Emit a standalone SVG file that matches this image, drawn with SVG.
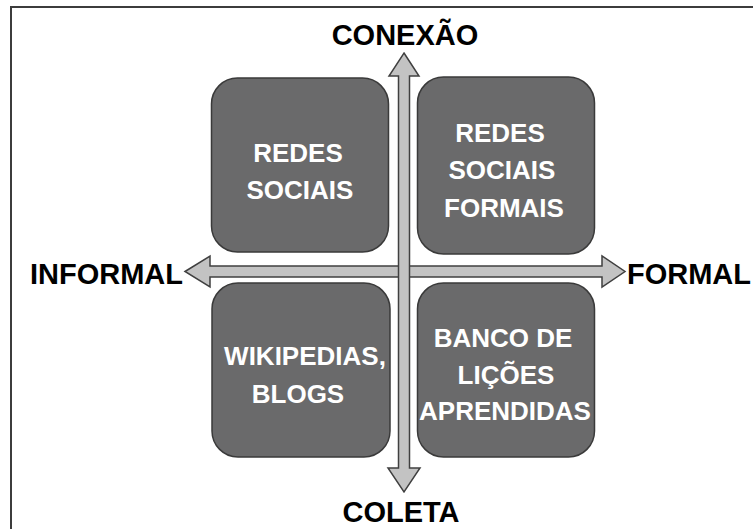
<svg xmlns="http://www.w3.org/2000/svg" width="753" height="529" viewBox="0 0 753 529">
  <style>
    .frame { fill: #ffffff; stroke: #3c3c3c; stroke-width: 2; }
    .box { fill: #6a6a6b; stroke: #3a3a3a; stroke-width: 1.5; }
    .arrow { fill: #c3c3c3; stroke: #404040; stroke-width: 1.5; stroke-linejoin: miter; }
    .btxt { font-family: "Liberation Sans", Arial, sans-serif; font-weight: bold; font-size: 26px; fill: #ffffff; text-anchor: middle; }
    .lbl { font-family: "Liberation Sans", Arial, sans-serif; font-weight: bold; font-size: 29px; fill: #000000; }
  </style>
  <rect class="frame" x="11" y="7" width="760" height="540"/>

  <g id="connectors">
    <path id="axis-horizontal" class="arrow" d="M185,271.5 L210,256 L210,266 L602,266 L602,256 L625,271.5 L602,287 L602,277 L210,277 L210,287 Z"/>
    <path id="axis-vertical" class="arrow" d="M404,53 L419,76 L409.5,76 L409.5,468 L420,468 L404,492 L388,468 L398.5,468 L398.5,76 L389,76 Z"/>
  </g>

  <g id="node-redes-sociais">
    <rect class="box" x="211.5" y="78" width="177" height="174" rx="26" ry="26"/>
    <text class="btxt" x="298" y="162">REDES</text>
    <text class="btxt" x="300" y="199">SOCIAIS</text>
  </g>

  <g id="node-redes-sociais-formais">
    <rect class="box" x="417.5" y="77" width="177" height="177" rx="26" ry="26"/>
    <text class="btxt" x="500" y="142">REDES</text>
    <text class="btxt" x="502" y="179">SOCIAIS</text>
    <text class="btxt" x="504" y="217">FORMAIS</text>
  </g>

  <g id="node-wikipedias-blogs">
    <rect class="box" x="212" y="283" width="178" height="174" rx="26" ry="26"/>
    <text class="btxt" x="305" y="365">WIKIPEDIAS,</text>
    <text class="btxt" x="298" y="403">BLOGS</text>
  </g>

  <g id="node-banco-licoes">
    <rect class="box" x="417.5" y="283" width="177" height="174" rx="26" ry="26"/>
    <text class="btxt" x="503" y="347">BANCO DE</text>
    <text class="btxt" x="506" y="384">LIÇÕES</text>
    <text class="btxt" x="505" y="420">APRENDIDAS</text>
  </g>

  <g id="labels">
    <text class="lbl" x="405" y="45" text-anchor="middle">CONEXÃO</text>
    <text class="lbl" x="183" y="284" text-anchor="end">INFORMAL</text>
    <text class="lbl" x="627" y="284">FORMAL</text>
    <text class="lbl" x="401" y="522" text-anchor="middle">COLETA</text>
  </g>
</svg>
